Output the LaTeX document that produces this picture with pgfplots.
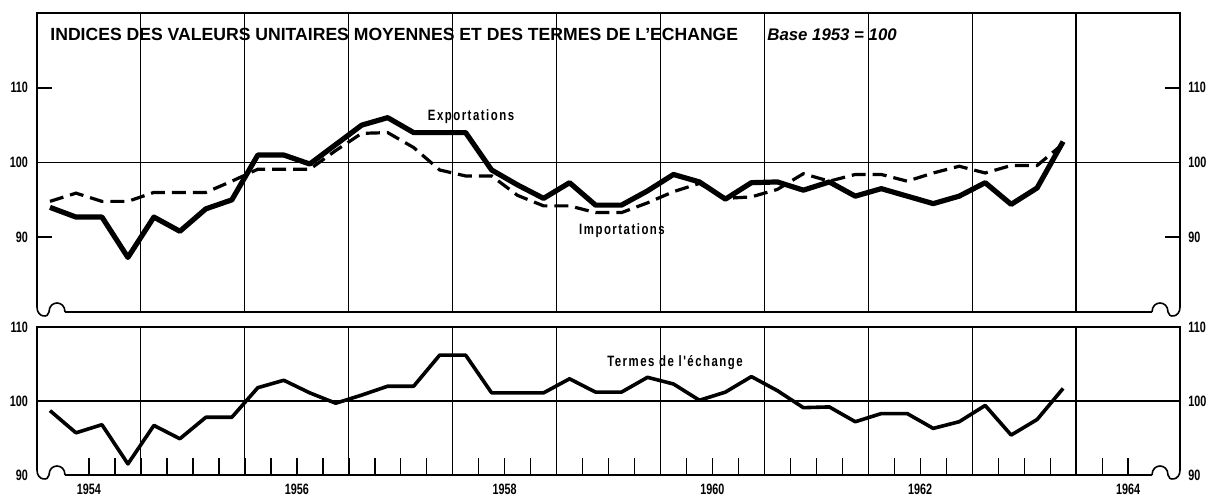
\documentclass[border=0pt]{standalone}
\usepackage{fontspec}
\setmainfont{Liberation Sans}
\newfontfamily\cond[FakeStretch=0.72]{Liberation Sans}
\newfontfamily\condsp[FakeStretch=0.76,LetterSpace=10]{Liberation Sans}
\usepackage{pgfplots}
\pgfplotsset{compat=1.18}
\usepackage{pgfplotstable}
\newcommand\tf{\cond\bfseries\fontsize{7.5}{7.5}\selectfont}

\pgfplotstableread{
x E I T
1954.125 94.0 94.8 98.7
1954.375 92.7 95.9 95.7
1954.625 92.7 94.8 96.8
1954.875 87.3 94.8 91.5
1955.125 92.7 96.0 96.7
1955.375 90.8 96.0 94.9
1955.625 93.8 96.0 97.8
1955.875 95.0 97.5 97.8
1956.125 101.0 99.1 101.8
1956.375 101.0 99.1 102.8
1956.625 99.8 99.1 101.1
1956.875 102.4 101.6 99.7
1957.125 105.0 103.9 100.8
1957.375 106.0 104.0 102.0
1957.625 104.0 102.0 102.0
1957.875 104.0 99.0 106.2
1958.125 104.0 98.2 106.2
1958.375 99.0 98.2 101.1
1958.625 97.0 95.6 101.1
1958.875 95.2 94.2 101.1
1959.125 97.3 94.2 103.0
1959.375 94.3 93.3 101.2
1959.625 94.3 93.3 101.2
1959.875 96.2 94.6 103.2
1960.125 98.4 96.1 102.3
1960.375 97.4 97.2 100.1
1960.625 95.1 95.2 101.2
1960.875 97.3 95.4 103.3
1961.125 97.4 96.4 101.4
1961.375 96.3 98.5 99.1
1961.625 97.4 97.5 99.2
1961.875 95.5 98.4 97.2
1962.125 96.5 98.4 98.3
1962.375 95.5 97.5 98.3
1962.625 94.5 98.6 96.3
1962.875 95.5 99.5 97.2
1963.125 97.3 98.6 99.4
1963.375 94.4 99.6 95.4
1963.625 96.6 99.6 97.5
1963.875 102.8 102.5 101.7
}\data

\begin{document}
\begin{tikzpicture}
\path[use as bounding box] (0,0) rectangle (610pt,250pt);
\pgfplotsset{
  every axis/.append style={
    scale only axis, width=571.5pt, anchor=south west, clip=false,
    xmin=1954, xmax=1965,
    axis line style={draw=none},
    /pgf/number format/assume math mode=true,
    tick label style={font=\tf},
    major grid style={black, line width=0.55pt},
  },
}
% ---------- top panel ----------
\begin{axis}[name=top, at={(18.5pt,94pt)}, height=149.5pt,
  ymin=80, ymax=120,
  xtick={1955,...,1964}, xticklabels={}, xmajorgrids,
  xtick style={draw=none},
  ytick={90,100,110}, ytick pos=both, tick align=inside,
  ytick style={black, line width=0.8pt}, major tick length=7.5pt,
  yticklabel style={xshift=-1pt},
]
\addplot[black, line width=0.8pt] coordinates {(1954,100) (1965,100)};
\addplot[black, line width=1.6pt, dash pattern=on 7pt off 3.5pt] table[x=x,y=I]{\data};
\addplot[black, line width=2.6pt, line join=round] table[x=x,y=E]{\data};
\node[font=\tf, anchor=west, xshift=4pt, inner sep=0] at (axis cs:1965,110) {110};
\node[font=\tf, anchor=west, xshift=4pt, inner sep=0] at (axis cs:1965,100) {100};
\node[font=\tf, anchor=west, xshift=4pt, inner sep=0] at (axis cs:1965,90) {90};
\end{axis}
% ---------- bottom panel ----------
\begin{axis}[name=bot, at={(18.5pt,12.5pt)}, height=74pt,
  ymin=90, ymax=110,
  xtick={1954.5,1956.5,1958.5,1960.5,1962.5,1964.5},
  xticklabels={1954,1956,1958,1960,1962,1964},
  minor xtick={1954.5,1954.75,...,1964.5},
  xtick pos=left, tick align=inside,
  xtick style={black, line width=0.7pt},
  major tick length=8.5pt, minor tick length=8.5pt,
  extra x ticks={1955,...,1964}, extra x tick labels={},
  extra x tick style={grid=major, major tick length=0pt},
  ytick={90,100,110}, ytick style={draw=none},
  yticklabel style={xshift=-1pt},
  xticklabel style={yshift=-1pt},
]
\addplot[black, line width=0.8pt] coordinates {(1954,100) (1965,100)};
\addplot[black, line width=1.8pt, line join=round] table[x=x,y=T]{\data};
\node[font=\tf, anchor=west, xshift=4pt, inner sep=0] at (axis cs:1965,110) {110};
\node[font=\tf, anchor=west, xshift=4pt, inner sep=0] at (axis cs:1965,100) {100};
\node[font=\tf, anchor=west, xshift=4pt, inner sep=0] at (axis cs:1965,90) {90};
\end{axis}
% ---------- frames with notched corners ----------
\foreach \p in {top,bot}{
  \draw[line width=0.8pt] ([yshift=2.5pt]\p.south west) -- (\p.north west) -- (\p.north east) -- ([yshift=2.5pt]\p.south east);
  \draw[line width=0.8pt] ([xshift=14pt]\p.south west) -- ([xshift=-14pt]\p.south east);
  \begin{scope}[shift={(\p.south west)}]
    \draw[line width=0.8pt] (0,2.5pt) .. controls (0,-3pt) and (6pt,-3pt) .. (6pt,0pt)
      .. controls (6pt,6pt) and (14pt,6pt) .. (14pt,0pt);
  \end{scope}
  \begin{scope}[shift={(\p.south east)}]
    \draw[line width=0.8pt] (0,2.5pt) .. controls (0,-3pt) and (-6pt,-3pt) .. (-6pt,0pt)
      .. controls (-6pt,6pt) and (-14pt,6pt) .. (-14pt,0pt);
  \end{scope}
}
% ---------- texts ----------
\node[anchor=base west, inner sep=0, font=\bfseries\fontsize{8.8}{8.8}\selectfont] at (25pt,230pt)
  {INDICES DES VALEURS UNITAIRES MOYENNES ET DES TERMES DE L'ECHANGE};
\node[anchor=base west, inner sep=0, font=\bfseries\itshape\fontsize{8.4}{8.4}\selectfont] at (383.5pt,230pt)
  {Base 1953 = 100};
\node[anchor=base, inner sep=0, font=\condsp\bfseries\fontsize{7.5}{7.5}\selectfont] at (235.5pt,190pt) {Exportations};
\node[anchor=base, inner sep=0, font=\condsp\bfseries\fontsize{7.5}{7.5}\selectfont] at (311pt,133pt) {Importations};
\node[anchor=base, inner sep=0, font=\condsp\bfseries\fontsize{7.5}{7.5}\selectfont] at (337.5pt,67pt) {Termes de l'échange};
\end{tikzpicture}
\end{document}
